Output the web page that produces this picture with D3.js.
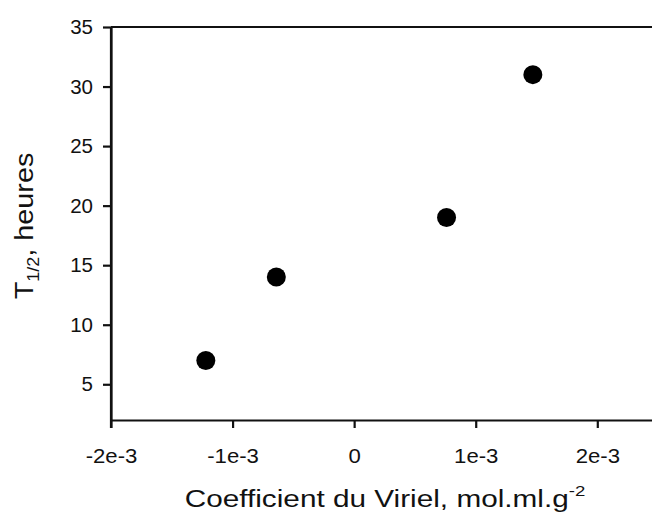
<!DOCTYPE html>
<html><head><meta charset="utf-8">
<script src="https://cdn.jsdelivr.net/npm/d3@7"></script>
<style>body{margin:0;background:#fff}svg{display:block}text{font-family:"Liberation Sans",Arial,sans-serif;fill:#111}</style>
</head><body>
<script>
const xValues = [-1.22e-3, -0.64e-3, 0.76e-3, 1.47e-3];
const yValues = [7, 14, 19, 31];
const xTicks = [-2e-3, -1e-3, 0, 1e-3, 2e-3];
const xTickLabels = ["-2e-3", "-1e-3", "0", "1e-3", "2e-3"];
const yTicks = [5, 10, 15, 20, 25, 30, 35];

const W = 652, H = 521;
const svg = d3.select("body").append("svg").attr("width", W).attr("height", H);
const x = d3.scaleLinear().domain([-2e-3, 2.45e-3]).range([111, 652]);
const y = d3.scaleLinear().domain([2, 35]).range([420, 27]);

const ax = svg.append("g").attr("transform", `translate(0,${y(2)})`)
  .call(d3.axisBottom(x).tickValues(xTicks).tickFormat((d,i)=>xTickLabels[i]).tickSize(8).tickSizeOuter(0).tickPadding(20));
ax.select(".domain").attr("stroke", "#111").attr("stroke-width", 2.2);
ax.selectAll(".tick line").attr("stroke", "#111").attr("stroke-width", 2.2);
ax.selectAll(".tick text").attr("font-size", 20.5).attr("font-family", "Liberation Sans, Arial, sans-serif").attr("fill", "#111")
  .attr("transform", "scale(1.08,1)");

const ay = svg.append("g").attr("transform", `translate(${x(-2e-3)},0)`)
  .call(d3.axisLeft(y).tickValues(yTicks).tickSize(8).tickSizeOuter(0).tickPadding(10));
ay.select(".domain").attr("stroke", "#111").attr("stroke-width", 2.2);
ay.selectAll(".tick line").attr("stroke", "#111").attr("stroke-width", 2.2);
ay.selectAll(".tick text").attr("font-size", 20.5).attr("font-family", "Liberation Sans, Arial, sans-serif").attr("fill", "#111");
// extend left axis to bottom tick
svg.append("line").attr("x1", x(-2e-3)).attr("x2", x(-2e-3)).attr("y1", y(35)).attr("y2", y(2)+8)
  .attr("stroke", "#111").attr("stroke-width", 2.2);
// top border
svg.append("line").attr("x1", x(-2e-3)).attr("x2", W).attr("y1", y(35)).attr("y2", y(35))
  .attr("stroke", "#111").attr("stroke-width", 2.2);

svg.append("g").selectAll("circle").data(xValues).join("circle")
  .attr("cx", d => x(d)).attr("cy", (d,i) => y(yValues[i])).attr("r", 9.5).attr("fill", "#000");

// x title
const xt = svg.append("text").attr("transform", "translate(385,507) scale(1.24,1)")
  .attr("text-anchor", "middle").attr("font-size", 24);
xt.append("tspan").text("Coefficient du Viriel, mol.ml.g");
xt.append("tspan").attr("font-size", 15).attr("dy", -11).text("-2");

// y title
const yt = svg.append("text").attr("transform", "translate(33,226) rotate(-90) scale(1.2,1.1)")
  .attr("text-anchor", "middle").attr("font-size", 24);
yt.append("tspan").text("T");
yt.append("tspan").attr("font-size", 15).attr("dy", 5).text("1/2");
yt.append("tspan").attr("dy", -5).text(", heures");
</script>
</body></html>
